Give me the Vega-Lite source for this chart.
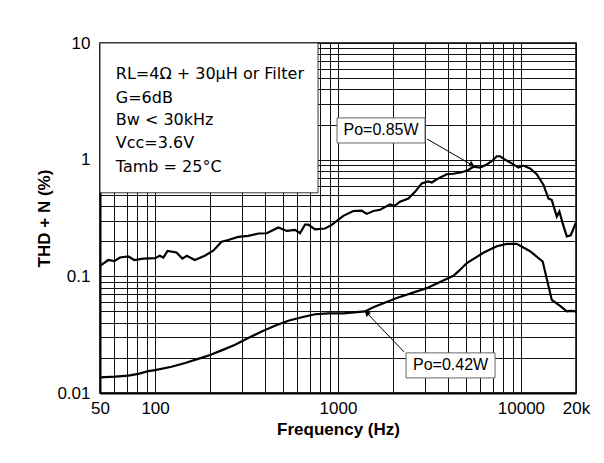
{
  "$schema": "https://vega.github.io/schema/vega-lite/v6.json",
  "width": 476,
  "height": 350,
  "autosize": {"type": "none"},
  "padding": {"left": 100, "top": 43, "right": 28, "bottom": 70},
  "background": "white",
  "config": {
    "font": "Liberation Sans",
    "view": {"stroke": "#000", "strokeWidth": 1.5},
    "axis": {
      "grid": true, "gridColor": "#111", "gridWidth": 1, "gridOpacity": 1,
      "ticks": false, "domainColor": "#000", "domainWidth": 2,
      "labelFont": "Liberation Sans", "labelFontSize": 17, "labelColor": "#000",
      "titleFont": "Liberation Sans", "titleFontSize": 17, "titleFontWeight": "bold", "titleColor": "#000",
      "labelOverlap": false, "labelFlush": false
    }
  },
  "datasets": {
    "curves": [
      {"f": 50, "v": 0.123, "series": "Po=0.85W"},
      {"f": 55.5, "v": 0.138, "series": "Po=0.85W"},
      {"f": 59.8, "v": 0.135, "series": "Po=0.85W"},
      {"f": 64.3, "v": 0.145, "series": "Po=0.85W"},
      {"f": 71.4, "v": 0.148, "series": "Po=0.85W"},
      {"f": 77, "v": 0.138, "series": "Po=0.85W"},
      {"f": 86, "v": 0.142, "series": "Po=0.85W"},
      {"f": 100, "v": 0.143, "series": "Po=0.85W"},
      {"f": 106, "v": 0.150, "series": "Po=0.85W"},
      {"f": 111, "v": 0.145, "series": "Po=0.85W"},
      {"f": 117, "v": 0.165, "series": "Po=0.85W"},
      {"f": 131, "v": 0.160, "series": "Po=0.85W"},
      {"f": 141, "v": 0.142, "series": "Po=0.85W"},
      {"f": 149, "v": 0.150, "series": "Po=0.85W"},
      {"f": 165, "v": 0.138, "series": "Po=0.85W"},
      {"f": 187, "v": 0.150, "series": "Po=0.85W"},
      {"f": 208, "v": 0.166, "series": "Po=0.85W"},
      {"f": 231, "v": 0.198, "series": "Po=0.85W"},
      {"f": 251, "v": 0.205, "series": "Po=0.85W"},
      {"f": 285, "v": 0.218, "series": "Po=0.85W"},
      {"f": 323, "v": 0.222, "series": "Po=0.85W"},
      {"f": 367, "v": 0.233, "series": "Po=0.85W"},
      {"f": 408, "v": 0.234, "series": "Po=0.85W"},
      {"f": 472, "v": 0.262, "series": "Po=0.85W"},
      {"f": 525, "v": 0.245, "series": "Po=0.85W"},
      {"f": 582, "v": 0.250, "series": "Po=0.85W"},
      {"f": 620, "v": 0.234, "series": "Po=0.85W"},
      {"f": 661, "v": 0.278, "series": "Po=0.85W"},
      {"f": 688, "v": 0.278, "series": "Po=0.85W"},
      {"f": 749, "v": 0.253, "series": "Po=0.85W"},
      {"f": 850, "v": 0.257, "series": "Po=0.85W"},
      {"f": 924, "v": 0.276, "series": "Po=0.85W"},
      {"f": 1069, "v": 0.33, "series": "Po=0.85W"},
      {"f": 1213, "v": 0.363, "series": "Po=0.85W"},
      {"f": 1348, "v": 0.365, "series": "Po=0.85W"},
      {"f": 1437, "v": 0.343, "series": "Po=0.85W"},
      {"f": 1560, "v": 0.363, "series": "Po=0.85W"},
      {"f": 1698, "v": 0.372, "series": "Po=0.85W"},
      {"f": 1926, "v": 0.414, "series": "Po=0.85W"},
      {"f": 2032, "v": 0.40, "series": "Po=0.85W"},
      {"f": 2183, "v": 0.436, "series": "Po=0.85W"},
      {"f": 2424, "v": 0.465, "series": "Po=0.85W"},
      {"f": 2636, "v": 0.53, "series": "Po=0.85W"},
      {"f": 2869, "v": 0.626, "series": "Po=0.85W"},
      {"f": 3118, "v": 0.65, "series": "Po=0.85W"},
      {"f": 3256, "v": 0.638, "series": "Po=0.85W"},
      {"f": 3467, "v": 0.68, "series": "Po=0.85W"},
      {"f": 3931, "v": 0.75, "series": "Po=0.85W"},
      {"f": 4274, "v": 0.757, "series": "Po=0.85W"},
      {"f": 4748, "v": 0.78, "series": "Po=0.85W"},
      {"f": 5158, "v": 0.815, "series": "Po=0.85W"},
      {"f": 5495, "v": 0.87, "series": "Po=0.85W"},
      {"f": 5981, "v": 0.855, "series": "Po=0.85W"},
      {"f": 6504, "v": 0.91, "series": "Po=0.85W"},
      {"f": 6927, "v": 0.97, "series": "Po=0.85W"},
      {"f": 7378, "v": 1.07, "series": "Po=0.85W"},
      {"f": 7690, "v": 1.07, "series": "Po=0.85W"},
      {"f": 8188, "v": 1.0, "series": "Po=0.85W"},
      {"f": 8910, "v": 0.93, "series": "Po=0.85W"},
      {"f": 9682, "v": 0.855, "series": "Po=0.85W"},
      {"f": 10314, "v": 0.89, "series": "Po=0.85W"},
      {"f": 11219, "v": 0.84, "series": "Po=0.85W"},
      {"f": 12200, "v": 0.75, "series": "Po=0.85W"},
      {"f": 13266, "v": 0.61, "series": "Po=0.85W"},
      {"f": 14130, "v": 0.465, "series": "Po=0.85W"},
      {"f": 14744, "v": 0.45, "series": "Po=0.85W"},
      {"f": 15700, "v": 0.325, "series": "Po=0.85W"},
      {"f": 16226, "v": 0.36, "series": "Po=0.85W"},
      {"f": 16850, "v": 0.29, "series": "Po=0.85W"},
      {"f": 17810, "v": 0.22, "series": "Po=0.85W"},
      {"f": 18730, "v": 0.225, "series": "Po=0.85W"},
      {"f": 20000, "v": 0.29, "series": "Po=0.85W"},
      {"f": 50, "v": 0.0136, "series": "Po=0.42W"},
      {"f": 60.4, "v": 0.0138, "series": "Po=0.42W"},
      {"f": 71.4, "v": 0.0141, "series": "Po=0.42W"},
      {"f": 81, "v": 0.0146, "series": "Po=0.42W"},
      {"f": 91.8, "v": 0.0154, "series": "Po=0.42W"},
      {"f": 100, "v": 0.0157, "series": "Po=0.42W"},
      {"f": 123, "v": 0.0168, "series": "Po=0.42W"},
      {"f": 146, "v": 0.0181, "series": "Po=0.42W"},
      {"f": 172, "v": 0.0196, "series": "Po=0.42W"},
      {"f": 200, "v": 0.0212, "series": "Po=0.42W"},
      {"f": 231, "v": 0.0232, "series": "Po=0.42W"},
      {"f": 274, "v": 0.0259, "series": "Po=0.42W"},
      {"f": 323, "v": 0.0296, "series": "Po=0.42W"},
      {"f": 383, "v": 0.0337, "series": "Po=0.42W"},
      {"f": 452, "v": 0.0377, "series": "Po=0.42W"},
      {"f": 535, "v": 0.0416, "series": "Po=0.42W"},
      {"f": 634, "v": 0.0446, "series": "Po=0.42W"},
      {"f": 749, "v": 0.0473, "series": "Po=0.42W"},
      {"f": 885, "v": 0.0482, "series": "Po=0.42W"},
      {"f": 1069, "v": 0.0482, "series": "Po=0.42W"},
      {"f": 1405, "v": 0.0500, "series": "Po=0.42W"},
      {"f": 1560, "v": 0.0544, "series": "Po=0.42W"},
      {"f": 2095, "v": 0.0653, "series": "Po=0.42W"},
      {"f": 3055, "v": 0.0792, "series": "Po=0.42W"},
      {"f": 4274, "v": 0.101, "series": "Po=0.42W"},
      {"f": 4551, "v": 0.1102, "series": "Po=0.42W"},
      {"f": 5060, "v": 0.130, "series": "Po=0.42W"},
      {"f": 6232, "v": 0.159, "series": "Po=0.42W"},
      {"f": 7378, "v": 0.181, "series": "Po=0.42W"},
      {"f": 8366, "v": 0.19, "series": "Po=0.42W"},
      {"f": 9485, "v": 0.19, "series": "Po=0.42W"},
      {"f": 11219, "v": 0.164, "series": "Po=0.42W"},
      {"f": 13150, "v": 0.134, "series": "Po=0.42W"},
      {"f": 14744, "v": 0.0628, "series": "Po=0.42W"},
      {"f": 16365, "v": 0.0558, "series": "Po=0.42W"},
      {"f": 17810, "v": 0.050, "series": "Po=0.42W"},
      {"f": 18730, "v": 0.0506, "series": "Po=0.42W"},
      {"f": 20000, "v": 0.050, "series": "Po=0.42W"}
    ],
    "conditionBox": [
      {"f": 50, "f2": 778, "v": 0.52, "v2": 10}
    ],
    "conditions": [
      {"f": 61, "v": 4.91, "text": "RL=4Ω + 30µH or Filter"},
      {"f": 61, "v": 3.06, "text": "G=6dB"},
      {"f": 61, "v": 1.98, "text": "Bw < 30kHz"},
      {"f": 61, "v": 1.26, "text": "Vcc=3.6V"},
      {"f": 61, "v": 0.784, "text": "Tamb = 25°C"}
    ],
    "labelBoxes": [
      {"f": 988, "f2": 2991, "v": 1.39, "v2": 2.28},
      {"f": 2355, "f2": 7220, "v": 0.01347, "v2": 0.02207}
    ],
    "labelTexts": [
      {"f": 1719, "v": 1.78, "text": "Po=0.85W"},
      {"f": 4124, "v": 0.01724, "text": "Po=0.42W"}
    ],
    "arrowLines": [
      {"f": 3068, "v": 1.504, "f2": 5400, "v2": 0.901},
      {"f": 2296, "v": 0.0225, "f2": 1437, "v2": 0.0486}
    ],
    "arrowHead1": [
      {"f": 5400, "v": 0.901}
    ],
    "arrowHead2": [
      {"f": 1437, "v": 0.0486}
    ]
  },
  "encoding": {
    "x": {
      "field": "f", "type": "quantitative",
      "scale": {"type": "log", "domain": [50, 20000], "nice": false},
      "axis": {
        "title": "Frequency (Hz)",
        "values": [50, 60, 70, 80, 90, 100, 200, 300, 400, 500, 600, 700, 800, 900, 1000, 2000, 3000, 4000, 5000, 6000, 7000, 8000, 9000, 10000, 20000],
        "labelExpr": "datum.value == 20000 ? '20k' : ((datum.value == 50 || datum.value == 100 || datum.value == 1000 || datum.value == 10000) ? format(datum.value, 'd') : '')",
        "labelPadding": 7,
        "titlePadding": 5
      }
    },
    "y": {
      "field": "v", "type": "quantitative",
      "scale": {"type": "log", "domain": [0.01, 10], "nice": false},
      "axis": {
        "title": "THD + N (%)",
        "values": [0.01, 0.02, 0.03, 0.04, 0.05, 0.06, 0.07, 0.08, 0.09, 0.1, 0.2, 0.3, 0.4, 0.5, 0.6, 0.7, 0.8, 0.9, 1, 2, 3, 4, 5, 6, 7, 8, 9, 10],
        "labelExpr": "datum.value == 0.01 ? '0.01' : datum.value == 0.1 ? '0.1' : datum.value == 1 ? '1' : datum.value == 10 ? '10' : ''",
        "labelPadding": 10,
        "titlePadding": 3
      }
    }
  },
  "layer": [
    {
      "data": {"name": "curves"},
      "mark": {"type": "line", "color": "#000", "strokeWidth": 2.2},
      "encoding": {"detail": {"field": "series", "type": "nominal"}}
    },
    {
      "data": {"name": "conditionBox"},
      "mark": {"type": "rect", "fill": "white", "stroke": "#333", "strokeWidth": 1},
      "encoding": {"x2": {"field": "f2"}, "y2": {"field": "v2"}}
    },
    {
      "data": {"name": "conditions"},
      "mark": {"type": "text", "align": "left", "baseline": "alphabetic", "fontSize": 16, "font": "DejaVu Sans", "color": "#000"},
      "encoding": {"text": {"field": "text"}}
    },
    {
      "data": {"name": "arrowLines"},
      "mark": {"type": "rule", "color": "#000", "strokeWidth": 1},
      "encoding": {"x2": {"field": "f2"}, "y2": {"field": "v2"}}
    },
    {
      "data": {"name": "arrowHead1"},
      "mark": {"type": "point", "shape": "triangle-up", "filled": true, "color": "#000", "size": 40, "angle": 120, "opacity": 1}
    },
    {
      "data": {"name": "arrowHead2"},
      "mark": {"type": "point", "shape": "triangle-up", "filled": true, "color": "#000", "size": 40, "angle": 316, "opacity": 1}
    },
    {
      "data": {"name": "labelBoxes"},
      "mark": {"type": "rect", "fill": "white", "stroke": "#666", "strokeWidth": 1},
      "encoding": {"x2": {"field": "f2"}, "y2": {"field": "v2"}}
    },
    {
      "data": {"name": "labelTexts"},
      "mark": {"type": "text", "align": "center", "baseline": "middle", "fontSize": 16, "font": "Liberation Sans", "color": "#000"},
      "encoding": {"text": {"field": "text"}}
    }
  ]
}
